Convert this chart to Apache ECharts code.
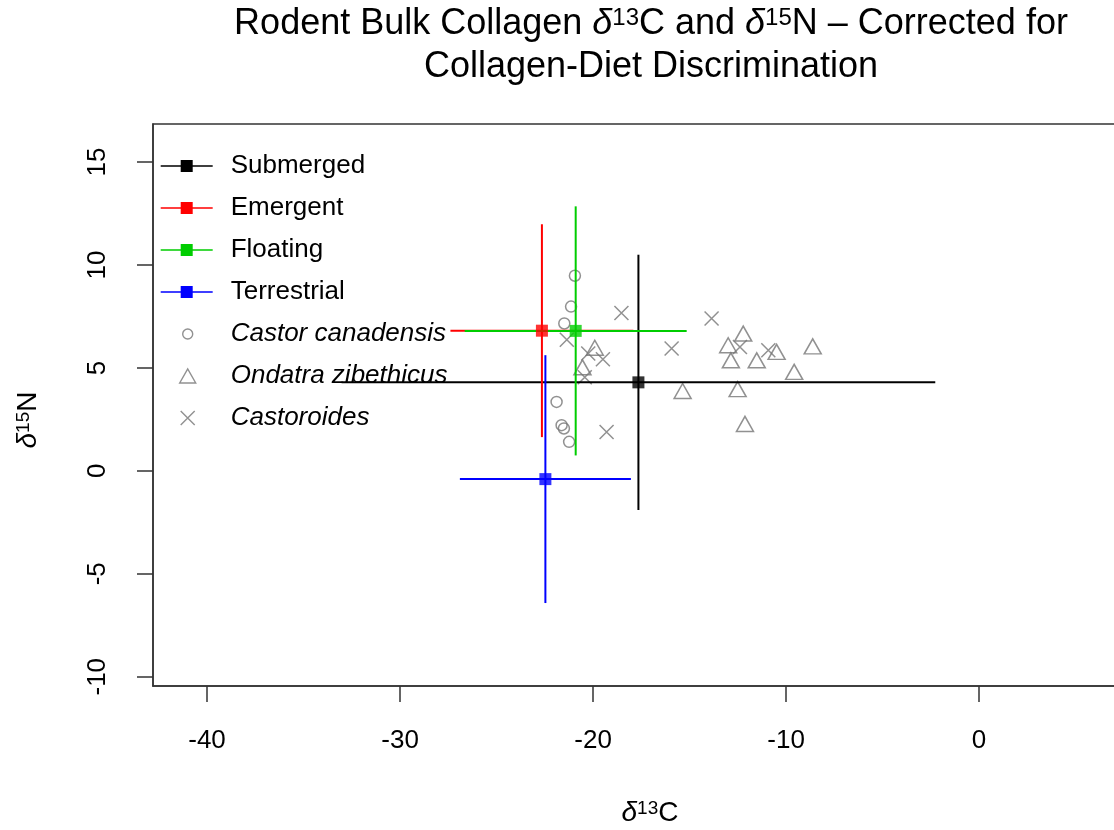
<!DOCTYPE html>
<html>
<head>
<meta charset="utf-8">
<script src="https://cdn.jsdelivr.net/npm/echarts@6/dist/echarts.min.js"></script>
<style>html,body{margin:0;padding:0;background:#fff;}#c{width:1114px;height:830px;}</style>
</head>
<body>
<div id="c"></div>
<script>
// ---- data ----
const groups = ['Submerged', 'Emergent', 'Floating', 'Terrestrial'];
const groupColors = ['#000000', '#ff0000', '#00cd00', '#0000ff'];
const meanX = [-17.65, -22.65, -20.9, -22.47];
const meanY = [4.3, 6.81, 6.8, -0.4];
const errX = [15.38, 4.74, 5.75, 4.43];
const errY = [6.2, 5.17, 6.05, 6.02];

const castorX = [-20.94, -21.14, -21.49, -21.89, -21.63, -21.51, -21.24];
const castorY = [9.48, 7.98, 7.16, 3.35, 2.22, 2.06, 1.41];
const ondatraX = [-12.22, -13.0, -12.86, -11.52, -10.49, -8.62, -9.58, -15.36, -12.51, -12.13, -19.91, -20.55];
const ondatraY = [6.67, 6.10, 5.37, 5.37, 5.78, 6.05, 4.81, 3.88, 3.97, 2.28, 5.98, 5.03];
const castoroidesX = [-18.53, -15.93, -13.86, -21.36, -20.25, -19.49, -20.43, -19.30, -12.39, -10.92];
const castoroidesY = [7.67, 5.94, 7.40, 6.37, 5.70, 5.42, 4.55, 1.89, 6.02, 5.86];

const xTicks = [-40, -30, -20, -10, 0];
const yTicks = [-10, -5, 0, 5, 10, 15];
const speciesNames = ['Castor canadensis', 'Ondatra zibethicus', 'Castoroides'];

// ---- build ----
const FONT = '"Liberation Sans", Arial, sans-serif';
const GRAY = '#767676';
const zip = (a, b) => a.map((v, i) => [v, b[i]]);

const errSeries = groups.map((g, i) => ({
  name: g,
  type: 'custom',
  z: 5,
  itemStyle: { color: groupColors[i] },
  data: [[meanX[i], meanY[i], errX[i], errY[i]]],
  renderItem: function (params, api) {
    const mx = api.value(0), my = api.value(1), sx = api.value(2), sy = api.value(3);
    const l = api.coord([mx - sx, my]), r = api.coord([mx + sx, my]);
    const t = api.coord([mx, my + sy]), b = api.coord([mx, my - sy]);
    const st = { stroke: groupColors[i], lineWidth: 2 };
    return {
      type: 'group',
      children: [
        { type: 'line', shape: { x1: l[0], y1: l[1], x2: r[0], y2: r[1] }, style: st },
        { type: 'line', shape: { x1: t[0], y1: t[1], x2: b[0], y2: b[1] }, style: st }
      ]
    };
  }
}));

const meanSeries = {
  name: 'means',
  type: 'scatter',
  z: 6,
  symbol: 'rect',
  symbolSize: 12,
  data: groups.map((g, i) => ({ value: [meanX[i], meanY[i]], itemStyle: { color: groupColors[i] } }))
};

const ptStyle = { color: 'rgba(0,0,0,0)', borderColor: GRAY, borderWidth: 1.5 };
const speciesSeries = [
  { name: speciesNames[0], type: 'scatter', z: 3, symbol: 'circle', symbolSize: 11, itemStyle: ptStyle, data: zip(castorX, castorY) },
  { name: speciesNames[1], type: 'scatter', z: 3, symbol: 'triangle', symbolSize: [17, 15], itemStyle: ptStyle, data: zip(ondatraX, ondatraY) },
  { name: speciesNames[2], type: 'scatter', z: 3, symbol: 'path://M0,0L10,10M10,0L0,10', symbolSize: 14, itemStyle: ptStyle, data: zip(castoroidesX, castoroidesY) }
];

const BOX = 'M0,0L0,0M65,16L65,16';
const barIcon = 'path://' + BOX + 'M0,7.2L52,7.2L52,8.8L0,8.8ZM20,2L32,2L32,14L20,14Z';
const spIcons = [
  'path://' + BOX + 'M32,8A5,5 0 1 1 22,8A5,5 0 1 1 32,8Z',
  'path://' + BOX + 'M19,15L35,15L27,1Z',
  'path://' + BOX + 'M20,1L34,15M34,1L20,15'
];
const legendData = groups.map((g, i) => ({ name: g, icon: barIcon, itemStyle: { color: groupColors[i], borderWidth: 0 } }))
  .concat(speciesNames.map((s, i) => ({ name: s, icon: spIcons[i], itemStyle: { color: 'rgba(0,0,0,0)', borderColor: GRAY, borderWidth: 1.4 } })));

const supRich = {
  n: { fontSize: 36, fontFamily: FONT, color: '#000' },
  d: { fontSize: 36, fontFamily: FONT, fontStyle: 'italic', color: '#000' },
  s: { fontSize: 24, fontFamily: FONT, color: '#000', verticalAlign: 'top' }
};
const nameRich = {
  n: { fontSize: 28, fontFamily: FONT, color: '#000' },
  d: { fontSize: 28, fontFamily: FONT, fontStyle: 'italic', color: '#000' },
  s: { fontSize: 19, fontFamily: FONT, color: '#000', verticalAlign: 'top' }
};

const chart = echarts.init(document.getElementById('c'), null, { renderer: 'canvas' });
chart.setOption({
  animation: false,
  backgroundColor: '#fff',
  grid: { left: 153, right: -33, top: 124, bottom: 144, outerBoundsMode: 'none', containLabel: false, show: true, borderColor: '#333', borderWidth: 1.5, backgroundColor: 'transparent' },
  xAxis: {
    type: 'value', min: -42.8, max: 8.7,
    axisLine: { show: true, onZero: false, lineStyle: { color: '#333', width: 1.5 } },
    axisTick: { show: true, inside: false, length: 16, customValues: xTicks, lineStyle: { color: '#333', width: 1.5 } },
    axisLabel: { customValues: xTicks, margin: 42, fontSize: 26, fontFamily: FONT, color: '#000' },
    splitLine: { show: false }
  },
  yAxis: {
    type: 'value', min: -10.45, max: 16.85,
    axisLine: { show: true, onZero: false, lineStyle: { color: '#333', width: 1.5 } },
    axisTick: { show: true, inside: false, length: 16, customValues: yTicks, lineStyle: { color: '#333', width: 1.5 } },
    axisLabel: { customValues: yTicks, margin: 42, rotate: 90, fontSize: 26, fontFamily: FONT, color: '#000' },
    splitLine: { show: false }
  },
  legend: {
    orient: 'vertical', left: 160, top: 153, padding: 0,
    itemWidth: 65, itemHeight: 16, itemGap: 16,
    selectedMode: false,
    data: legendData,
    formatter: function (name) { return speciesNames.indexOf(name) >= 0 ? '{i|' + name + '}' : '{r|' + name + '}'; },
    textStyle: {
      fontSize: 26, fontFamily: FONT, color: '#000', lineHeight: 26,
      rich: {
        i: { fontSize: 26, fontFamily: FONT, fontStyle: 'italic', color: '#000', lineHeight: 26 },
        r: { fontSize: 26, fontFamily: FONT, color: '#000', lineHeight: 26 }
      }
    }
  },
  graphic: [
    { type: 'text', x: 651, y: 24, style: { text: '{n|Rodent Bulk Collagen }{d|δ}{s|13}{n|C and }{d|δ}{s|15}{n|N – Corrected for}', rich: supRich, align: 'center', verticalAlign: 'middle' } },
    { type: 'text', x: 651, y: 67, style: { text: 'Collagen-Diet Discrimination', font: '36px ' + FONT, fill: '#000', align: 'center', verticalAlign: 'middle' } },
    { type: 'text', x: 650, y: 813, style: { text: '{d|δ}{s|13}{n|C}', rich: nameRich, align: 'center', verticalAlign: 'middle' } },
    { type: 'text', x: 28, y: 420, rotation: Math.PI / 2, style: { text: '{d|δ}{s|15}{n|N}', rich: nameRich, align: 'center', verticalAlign: 'middle' } }
  ],
  series: speciesSeries.concat(errSeries).concat([meanSeries])
});
</script>
</body>
</html>
